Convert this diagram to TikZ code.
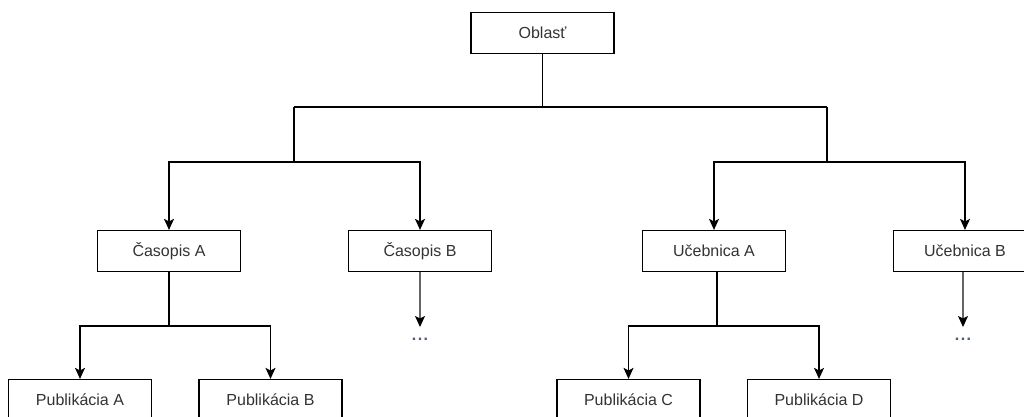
\documentclass[tikz,border=0pt]{standalone}
\usepackage{fontspec}
\setmainfont{Liberation Sans}
\usetikzlibrary{arrows.meta}
\definecolor{txt}{HTML}{333333}
\definecolor{dotc}{HTML}{4B5A78}
\begin{document}
\begin{tikzpicture}[x=1pt,y=-1pt,
  box/.style={draw=black,line width=1.2pt,fill=white,minimum width=143pt,minimum height=41pt,
    inner sep=0pt,font=\fontsize{16pt}{18pt}\selectfont,text=txt},
  link/.style={draw=black,line width=1.1pt},
  arr/.style={link,-{Stealth[length=11pt,width=10pt,inset=2.5pt]}},
  faint/.style={link,draw=black!60,-{Stealth[length=11pt,width=10pt,inset=2.5pt,color=black]}},
  dots/.style={font=\fontsize{16pt}{18pt}\selectfont\bfseries,text=dotc,inner sep=0pt}]
\useasboundingbox (0,0) rectangle (1024,417);
\clip (0,0) rectangle (1024,417);

% nodes
\node[box] (root) at (542.5,33) {Oblasť};
\node[box] (cA) at (169,251) {Časopis A};
\node[box] (cB) at (420,251) {Časopis B};
\node[box] (uA) at (714,251) {Učebnica A};
\node[box] (uB) at (965,251) {Učebnica B};
\node[box] (pA) at (80,400) {Publikácia A};
\node[box] (pB) at (270.5,400) {Publikácia B};
\node[box] (pC) at (628.5,400) {Publikácia C};
\node[box] (pD) at (819,400) {Publikácia D};
\node[dots,anchor=base] (dB) at (420,340) {.\kern1.5pt.\kern1.5pt.};
\node[dots,anchor=base] (dU) at (963,340) {.\kern1.5pt.\kern1.5pt.};

% junction points
\coordinate (jl) at (294,107);
\coordinate (jr) at (827,107);
\coordinate (bl) at (294,162);
\coordinate (br) at (827,162);
\coordinate (ja) at (169,326);
\coordinate (ju) at (717,326);
\coordinate (eB) at (420,327);
\coordinate (eU) at (963,327);

% top level split
\draw[link] (root.south) -- (root.south |- jl);
\draw[link] (jl) -- (jr);
\draw[arr] (jl) -- (bl) -| (cA.north);
\draw[arr] (bl) -| (cB.north);
\draw[arr] (jr) -- (br) -| (uA.north);
\draw[arr] (br) -| (uB.north);

% publications
\draw[link] (cA.south) -- (ja);
\draw[arr] (ja) -| (pA.north);
\draw[arr] (ja) -| (pB.north);
\draw[link] (uA.south -| ju) -- (ju);
\draw[arr] (ju) -| (pC.north);
\draw[arr] (ju) -| (pD.north);

% continuation
\draw[faint] (cB.south) -- (eB);
\draw[faint] (uB.south -| eU) -- (eU);
\end{tikzpicture}
\end{document}
